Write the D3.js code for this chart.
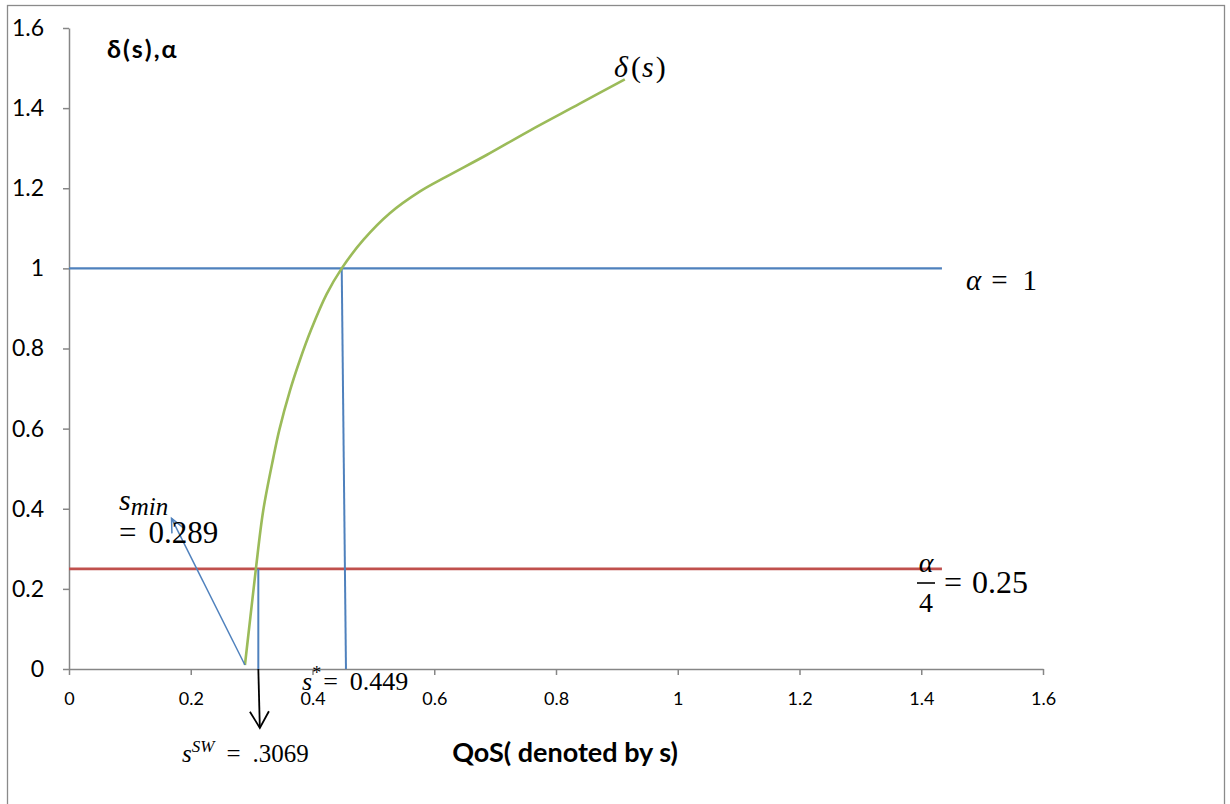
<!DOCTYPE html>
<html>
<head>
<meta charset="utf-8">
<script src="https://cdn.jsdelivr.net/npm/d3@7"></script>
<style>
  html, body { margin: 0; padding: 0; background: #ffffff; }
  svg { display: block; }
  .math { font-family: "Liberation Serif", "DejaVu Serif", serif; fill: #000; }
  .sans { font-family: Lato, "Liberation Sans", sans-serif; fill: #000; }
</style>
</head>
<body>
<svg id="chart" width="1230" height="804"></svg>
<script>
// ---- data ----
const xTicks = [0, 0.2, 0.4, 0.6, 0.8, 1, 1.2, 1.4, 1.6];
const yTicks = [0, 0.2, 0.4, 0.6, 0.8, 1, 1.2, 1.4, 1.6];
// delta(s) curve
const sValues     = [0.289, 0.298, 0.307, 0.319, 0.3356, 0.3455, 0.363, 0.3795, 0.3975, 0.423, 0.448, 0.4835, 0.527, 0.5766, 0.620, 0.686, 0.757, 0.839, 0.913];
const deltaValues = [0.010, 0.130, 0.250, 0.395, 0.527,  0.597,  0.695, 0.772,  0.846,  0.935, 1.000, 1.071,  1.1376, 1.192, 1.229, 1.283, 1.344, 1.411, 1.472];
// horizontal reference lines
const alphaLineX = [0, 1.434];
const alphaValue = 1;
const quarterLineX = [0, 1.434];
const quarterValue = 0.25;
// vertical markers (s at top, s at bottom, delta top)
const swLine   = { sTop: 0.311, sBottom: 0.311, top: 0.25 };
const starLine = { sTop: 0.448, sBottom: 0.455, top: 1.0 };
// annotation arrows (from -> to, data units)
const sminArrow = { from: [0.289, 0.01], to: [0.1684, 0.376] };
const swArrow   = { from: [0.311, 0.0], to: [0.3135, -0.147] };

// ---- layout ----
const svg = d3.select("#chart");
const x = d3.scaleLinear().domain([0, 1.6]).range([69, 1043]);
const y = d3.scaleLinear().domain([0, 1.6]).range([669, 28]);
const axisColor = "#868686";
const blue = "#4F81BD", red = "#C0504D", green = "#9BBB59";

// outer frame
svg.append("rect").attr("x", 7.5).attr("y", 5.5).attr("width", 1217).attr("height", 812)
  .attr("fill", "none").attr("stroke", "#8a8a8a").attr("stroke-width", 1.3);

// markers
const defs = svg.append("defs");
function arrowMarker(id, color, len, half, width) {
  const a = half * Math.PI / 180;
  const dx = -len * Math.cos(a), dy = len * Math.sin(a);
  defs.append("marker").attr("id", id)
    .attr("markerUnits", "userSpaceOnUse")
    .attr("viewBox", "-30 -20 34 40").attr("markerWidth", 34).attr("markerHeight", 40)
    .attr("refX", 0).attr("refY", 0).attr("orient", "auto")
    .append("path").attr("d", `M${dx},${-dy} L0,0 L${dx},${dy}`)
    .attr("fill", "none").attr("stroke", color).attr("stroke-width", width)
    .attr("stroke-linejoin", "miter");
}
arrowMarker("blueHead", blue, 15, 25, 1.5);
arrowMarker("blackHead", "#000", 19, 30, 1.8);

// axes
const yAxis = d3.axisLeft(y).tickValues(yTicks).tickSize(6).tickSizeOuter(0).tickPadding(19)
  .tickFormat(d3.format("~g"));
const xAxis = d3.axisBottom(x).tickValues(xTicks).tickSize(6).tickSizeOuter(0).tickPadding(17)
  .tickFormat(d3.format("~g"));

const gy = svg.append("g").attr("transform", `translate(${x(0)},0)`).call(yAxis);
gy.selectAll("text").attr("font-family", "Lato, 'Liberation Sans', sans-serif").attr("font-size", 23).attr("fill", "#000");
const gx = svg.append("g").attr("transform", `translate(0,${y(0)})`).call(xAxis);
gx.selectAll("text").attr("font-family", "Lato, 'Liberation Sans', sans-serif").attr("font-size", 18).attr("fill", "#000");
[gx, gy].forEach(g => {
  g.select(".domain").attr("stroke", axisColor).attr("stroke-width", 1.5);
  g.selectAll(".tick line").attr("stroke", axisColor).attr("stroke-width", 1.5);
});

// horizontal lines
svg.append("line").attr("x1", x(alphaLineX[0])).attr("x2", x(alphaLineX[1]))
  .attr("y1", y(alphaValue)).attr("y2", y(alphaValue))
  .attr("stroke", blue).attr("stroke-width", 2.3);
svg.append("line").attr("x1", x(quarterLineX[0])).attr("x2", x(quarterLineX[1]))
  .attr("y1", y(quarterValue)).attr("y2", y(quarterValue))
  .attr("stroke", red).attr("stroke-width", 2.6);

// vertical lines
[swLine, starLine].forEach(v => {
  svg.append("line").attr("x1", x(v.sTop)).attr("y1", y(v.top))
    .attr("x2", x(v.sBottom)).attr("y2", y(0))
    .attr("stroke", blue).attr("stroke-width", 2);
});

// delta(s) curve
const curveData = sValues.map((s, i) => [s, deltaValues[i]]);
svg.append("path").datum(curveData)
  .attr("d", d3.line().x(d => x(d[0])).y(d => y(d[1])).curve(d3.curveCatmullRom.alpha(0.5)))
  .attr("fill", "none").attr("stroke", green).attr("stroke-width", 2.6);

// arrows
svg.append("line").attr("x1", x(sminArrow.from[0])).attr("y1", y(sminArrow.from[1]))
  .attr("x2", x(sminArrow.to[0])).attr("y2", y(sminArrow.to[1]))
  .attr("stroke", blue).attr("stroke-width", 1.5).attr("marker-end", "url(#blueHead)");
svg.append("line").attr("x1", x(swArrow.from[0])).attr("y1", y(swArrow.from[1]))
  .attr("x2", x(swArrow.to[0])).attr("y2", y(swArrow.to[1]))
  .attr("stroke", "#000").attr("stroke-width", 1.8).attr("marker-end", "url(#blackHead)");

// ---- texts ----
// y-axis title
svg.append("text").attr("class", "sans").attr("x", 107).attr("y", 58)
  .attr("font-size", 25).attr("font-weight", "bold").attr("letter-spacing", 2).text("δ(s),α");
// x-axis title
svg.append("text").attr("class", "sans").attr("x", 565).attr("y", 762)
  .attr("text-anchor", "middle").attr("font-size", 27).attr("font-weight", "bold")
  .text("QoS( denoted by s)");

// delta(s) label
const dl = svg.append("text").attr("class", "math").attr("x", 614).attr("y", 77).attr("font-size", 30);
dl.append("tspan").attr("font-style", "italic").text("δ");
dl.append("tspan").attr("dx", 3).text("(");
dl.append("tspan").attr("dx", 1).attr("font-style", "italic").text("s");
dl.append("tspan").attr("dx", 2).text(")");

// alpha = 1
const al = svg.append("text").attr("class", "math").attr("x", 966).attr("y", 290).attr("font-size", 29);
al.append("tspan").attr("font-style", "italic").text("α");
al.append("tspan").attr("dx", 10).text("=");
al.append("tspan").attr("dx", 15).text("1");

// alpha/4 = 0.25
svg.append("text").attr("class", "math").attr("x", 926).attr("y", 572).attr("text-anchor", "middle")
  .attr("font-size", 28).attr("font-style", "italic").text("α");
svg.append("line").attr("x1", 917).attr("x2", 935).attr("y1", 583).attr("y2", 583)
  .attr("stroke", "#000").attr("stroke-width", 1.6);
svg.append("text").attr("class", "math").attr("x", 926).attr("y", 612).attr("text-anchor", "middle")
  .attr("font-size", 28).text("4");
const q = svg.append("text").attr("class", "math").attr("x", 944).attr("y", 593).attr("font-size", 32);
q.append("tspan").text("=");
q.append("tspan").attr("dx", 10).text("0.25");

// s_min = 0.289
const sm = svg.append("text").attr("class", "math").attr("x", 119).attr("y", 510).attr("font-size", 30);
sm.append("tspan").attr("font-style", "italic").text("s");
sm.append("tspan").attr("font-style", "italic").attr("font-size", 25).attr("dy", 5).text("min");
const sm2 = svg.append("text").attr("class", "math").attr("x", 119).attr("y", 543).attr("font-size", 31);
sm2.append("tspan").text("=");
sm2.append("tspan").attr("dx", 12).text("0.289");

// s* = 0.449
const ss = svg.append("text").attr("class", "math").attr("x", 302).attr("y", 690).attr("font-size", 26);
ss.append("tspan").attr("font-style", "italic").text("s");
ss.append("tspan").attr("font-size", 18).attr("dy", -11).text("*");
ss.append("tspan").attr("dy", 11).attr("dx", 2).text("=");
ss.append("tspan").attr("dx", 12).text("0.449");

// s^SW = .3069
const sw = svg.append("text").attr("class", "math").attr("x", 182).attr("y", 762).attr("font-size", 25);
sw.append("tspan").attr("font-style", "italic").text("s");
sw.append("tspan").attr("font-style", "italic").attr("font-size", 17).attr("dy", -10).text("SW");
sw.append("tspan").attr("dy", 10).attr("dx", 12).text("=");
sw.append("tspan").attr("dx", 12).text(".3069");
</script>
</body>
</html>
